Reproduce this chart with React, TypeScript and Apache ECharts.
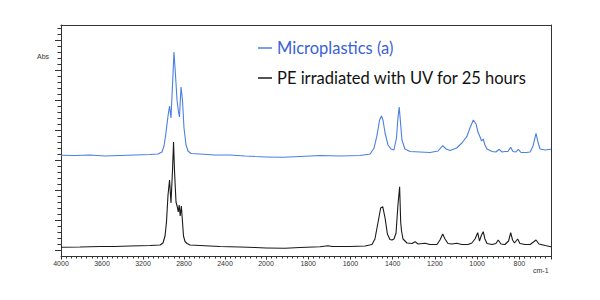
import React, { useEffect, useRef } from "react";
import * as echarts from "echarts";

// Spectrum: Microplastics (a) — [wavenumber cm-1, absorbance (arb.)]
const microHigh: [number, number][] = [
  [4000, 3.157], [3863, 3.15], [3717, 3.167], [3571, 3.133], [3424, 3.15], [3278, 3.167],
  [3132, 3.183], [3054, 3.2], [3015, 3.267], [2995, 3.467], [2976, 3.9], [2956, 4.467],
  [2941, 4.8], [2927, 4.4], [2912, 5.5], [2898, 6.6], [2883, 5.833], [2868, 5.0],
  [2854, 4.6], [2844, 4.433], [2829, 5.433], [2815, 5.0], [2800, 4.067], [2780, 3.5],
  [2761, 3.3], [2732, 3.217], [2644, 3.2], [2498, 3.167], [2351, 3.167], [2205, 3.133],
  [2107, 3.117], [2000, 3.1],
];
const microLow: [number, number][] = [
  [2000, 3.1], [1919, 3.09], [1839, 3.117], [1744, 3.15], [1649, 3.133], [1555, 3.15],
  [1507, 3.2], [1488, 3.4], [1474, 3.833], [1462, 4.333], [1453, 4.467], [1446, 4.333],
  [1436, 3.9], [1422, 3.5], [1408, 3.367], [1394, 3.333], [1382, 3.733], [1375, 4.4],
  [1369, 4.767], [1363, 4.267], [1356, 3.667], [1342, 3.367], [1318, 3.283], [1271, 3.267],
  [1223, 3.25], [1185, 3.3], [1163, 3.477], [1147, 3.367], [1128, 3.317], [1097, 3.4],
  [1072, 3.567], [1049, 3.777], [1034, 4.067], [1018, 4.333], [1005, 4.2], [996, 3.933],
  [986, 3.767], [979, 3.633], [971, 3.7], [963, 3.5], [953, 3.367], [929, 3.283],
  [911, 3.267], [895, 3.357], [882, 3.267], [868, 3.283], [854, 3.283], [841, 3.423],
  [830, 3.283], [816, 3.267], [805, 3.357], [792, 3.25], [768, 3.25], [749, 3.267],
  [735, 3.467], [721, 3.89], [712, 3.6], [702, 3.367], [678, 3.333], [650, 3.357],
];

// Spectrum: PE irradiated with UV for 25 hours
const peHigh: [number, number][] = [
  [4000, 0.09], [3815, 0.1], [3620, 0.117], [3473, 0.117], [3327, 0.133], [3132, 0.15],
  [3034, 0.167], [3005, 0.233], [2985, 0.467], [2971, 0.933], [2956, 1.833], [2941, 2.333],
  [2927, 1.567], [2912, 2.667], [2902, 3.6], [2893, 2.667], [2878, 1.6], [2865, 1.433],
  [2856, 1.267], [2847, 1.5], [2837, 1.133], [2826, 1.467], [2816, 1.0], [2805, 0.467],
  [2790, 0.283], [2771, 0.217], [2741, 0.167], [2644, 0.15], [2449, 0.117], [2254, 0.1],
  [2107, 0.083], [2000, 0.067],
];
const peLow: [number, number][] = [
  [2000, 0.067], [1910, 0.057], [1839, 0.083], [1744, 0.11], [1706, 0.143], [1687, 0.117],
  [1602, 0.117], [1531, 0.133], [1498, 0.183], [1484, 0.367], [1469, 0.933], [1457, 1.4],
  [1447, 1.443], [1436, 1.067], [1425, 0.533], [1413, 0.35], [1403, 0.333], [1394, 0.367],
  [1384, 0.567], [1375, 1.5], [1367, 2.11], [1362, 0.933], [1358, 0.633], [1351, 0.367],
  [1332, 0.233], [1308, 0.217], [1294, 0.277], [1280, 0.2], [1247, 0.223], [1223, 0.183],
  [1190, 0.183], [1176, 0.333], [1163, 0.533], [1152, 0.367], [1138, 0.217], [1119, 0.2],
  [1097, 0.223], [1072, 0.183], [1043, 0.183], [1025, 0.233], [1010, 0.367], [997, 0.577],
  [989, 0.3], [979, 0.5], [971, 0.61], [963, 0.367], [953, 0.217], [929, 0.183],
  [911, 0.217], [900, 0.333], [887, 0.2], [868, 0.183], [851, 0.3], [841, 0.577],
  [832, 0.333], [823, 0.233], [808, 0.367], [797, 0.217], [773, 0.183], [749, 0.183],
  [733, 0.267], [721, 0.333], [707, 0.2], [678, 0.15], [650, 0.11],
];

const seriesNames = ["Microplastics (a)", "PE irradiated with UV for 25 hours"];
const yMajorTicks = [0, 1, 2, 3, 4, 5, 6, 7];
const yMinorTicks: number[] = [];
for (let i = 1; i <= 37; i++) if (i % 5 !== 0) yMinorTicks.push(Math.round(i * 20) / 100);

const BLUE = "#4b7fe3";
const BLACK = "#1a1a1a";
const AXIS = "#333";

export default function App() {
  const ref = useRef<HTMLDivElement>(null);
  useEffect(() => {
    if (!ref.current) return;
    const chart = echarts.init(ref.current, null, { renderer: "svg" });
    const labelBase = { fontSize: 7, color: AXIS, fontFamily: "Liberation Sans", margin: 4 };
    const tickLine = { color: AXIS, width: 1 };
    const lineBase = { show: true, onZero: false, lineStyle: { color: AXIS, width: 1 } };
    const yMin = -0.2;
    const yMax = 7.5;
    chart.setOption({
      animation: false,
      backgroundColor: "#fff",
      grid: [
        { left: 61, top: 25, width: 205, height: 231 },
        { left: 266, top: 25, width: 285, height: 231 },
      ],
      legend: {
        orient: "vertical",
        left: 258,
        top: 39,
        padding: 0,
        itemGap: 12,
        itemWidth: 14,
        itemHeight: 1.5,
        icon: "rect",
        data: [
          { name: seriesNames[0], textStyle: { color: "#3a62d6" } },
          { name: seriesNames[1], textStyle: { color: "#111" } },
        ],
        textStyle: { fontSize: 16.5, fontFamily: "Lato", lineHeight: 18 },
      },
      xAxis: [
        {
          gridIndex: 0, type: "value", min: 2000, max: 4000, interval: 400, inverse: true, position: "bottom",
          axisLine: lineBase,
          axisTick: { show: true, length: 3.5, lineStyle: tickLine },
          minorTick: { show: true, splitNumber: 8, length: 2.5, lineStyle: tickLine },
          axisLabel: { ...labelBase, formatter: (v: number) => (v === 2000 ? "" : String(v)) },
          splitLine: { show: false },
        },
        {
          gridIndex: 1, type: "value", min: 650, max: 2000, splitNumber: 7, inverse: true, position: "bottom",
          axisLine: lineBase,
          axisTick: { show: true, length: 3.5, lineStyle: tickLine },
          minorTick: { show: true, splitNumber: 8, length: 2.5, lineStyle: tickLine },
          axisLabel: { ...labelBase, formatter: (v: number) => (v % 200 === 0 ? String(v) : "") },
          splitLine: { show: false },
        },
        {
          gridIndex: 0, type: "value", min: 2000, max: 4000, inverse: true, position: "top",
          axisLine: lineBase,
          axisTick: { show: false }, axisLabel: { show: false }, splitLine: { show: false },
        },
        {
          gridIndex: 1, type: "value", min: 650, max: 2000, inverse: true, position: "top",
          axisLine: lineBase,
          axisTick: { show: false }, axisLabel: { show: false }, splitLine: { show: false },
        },
      ],
      yAxis: [
        {
          gridIndex: 0, type: "value", min: yMin, max: yMax, position: "left",
          axisLine: lineBase,
          axisTick: { show: true, customValues: yMajorTicks, length: 6, lineStyle: tickLine },
          axisLabel: { show: false }, splitLine: { show: false },
        },
        {
          gridIndex: 0, type: "value", min: yMin, max: yMax, position: "left",
          axisLine: { show: false },
          axisTick: { show: true, customValues: yMinorTicks, length: 3.5, lineStyle: tickLine },
          axisLabel: { show: false }, splitLine: { show: false },
        },
        {
          gridIndex: 1, type: "value", min: yMin, max: yMax, position: "right",
          axisLine: lineBase,
          axisTick: { show: false }, axisLabel: { show: false }, splitLine: { show: false },
        },
      ],
      series: [
        { name: seriesNames[0], type: "line", xAxisIndex: 0, yAxisIndex: 0, data: microHigh, showSymbol: false, lineStyle: { color: BLUE, width: 1.1 }, itemStyle: { color: BLUE } },
        { name: seriesNames[0], type: "line", xAxisIndex: 1, yAxisIndex: 2, data: microLow, showSymbol: false, lineStyle: { color: BLUE, width: 1.1 }, itemStyle: { color: BLUE } },
        { name: seriesNames[1], type: "line", xAxisIndex: 0, yAxisIndex: 0, data: peHigh, showSymbol: false, lineStyle: { color: BLACK, width: 1.1 }, itemStyle: { color: BLACK } },
        { name: seriesNames[1], type: "line", xAxisIndex: 1, yAxisIndex: 2, data: peLow, showSymbol: false, lineStyle: { color: BLACK, width: 1.1 }, itemStyle: { color: BLACK } },
      ],
      graphic: [
        { type: "text", left: 37, top: 53, style: { text: "Abs", fontSize: 7, fill: AXIS, fontFamily: "Liberation Sans" } },
        { type: "text", left: 533, top: 267, style: { text: "cm-1", fontSize: 7, fill: AXIS, fontFamily: "Liberation Sans" } },
      ],
    });
    return () => chart.dispose();
  }, []);
  return <div ref={ref} style={{ position: "fixed", left: 0, top: 0, width: 600, height: 300 }} />;
}
